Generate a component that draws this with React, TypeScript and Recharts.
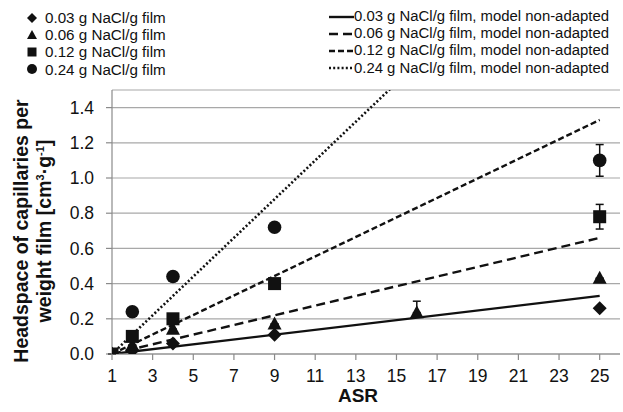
import React from 'react';
import {
  ComposedChart,
  Line,
  Scatter,
  ErrorBar,
  XAxis,
  YAxis,
  CartesianGrid,
} from 'recharts';

// measured points (ASR vs headspace per film weight)
const diamondAsr = [1, 2, 4, 9, 25];
const diamondVal = [0, 0.02, 0.06, 0.11, 0.26];
const triangleAsr = [1, 2, 4, 9, 16, 25];
const triangleVal = [0, 0.05, 0.14, 0.17, 0.235, 0.43];
const triangleErrUp = [0, 0, 0, 0, 0.065, 0];
const squareAsr = [1, 2, 4, 9, 25];
const squareVal = [0, 0.1, 0.2, 0.4, 0.78];
const squareErr = [0, 0, 0, 0, 0.07];
const circleAsr = [2, 4, 9, 25];
const circleVal = [0.24, 0.44, 0.72, 1.1];
const circleErr = [0, 0, 0.02, 0.09];

// model lines, non-adapted
const modelAsr = [1, 25];
const model003 = [0, 0.33];
const model006 = [0, 0.66];
const model012 = [0, 1.33];
const model024 = [0, 2.64];

const xTicks = [1, 3, 5, 7, 9, 11, 13, 15, 17, 19, 21, 23, 25];
const yTicks = [0, 0.2, 0.4, 0.6, 0.8, 1.0, 1.2, 1.4];

const legendPoints = [
  '0.03 g NaCl/g film',
  '0.06 g NaCl/g film',
  '0.12 g NaCl/g film',
  '0.24 g NaCl/g film',
];
const legendModels = [
  '0.03 g NaCl/g film, model non-adapted',
  '0.06 g NaCl/g film, model non-adapted',
  '0.12 g NaCl/g film, model non-adapted',
  '0.24 g NaCl/g film, model non-adapted',
];

const pts = (xs: number[], ys: number[], errs?: (number | number[])[]) =>
  xs.map((x, i) => ({ x, y: ys[i], err: errs ? errs[i] : 0 }));

const INK = '#111';
const FONT = '"Liberation Sans", Arial, sans-serif';

const dashes = [undefined, '9 5', '6 3', '2 2.2'];
const models = [model003, model006, model012, model024];

type MarkerKind = 'diamond' | 'triangle' | 'square' | 'circle';

function markerPath(kind: MarkerKind, cx: number, cy: number) {
  switch (kind) {
    case 'diamond':
      return <path d={`M${cx},${cy - 7}L${cx + 7},${cy}L${cx},${cy + 7}L${cx - 7},${cy}Z`} fill={INK} />;
    case 'triangle':
      return <path d={`M${cx},${cy - 7.5}L${cx + 7},${cy + 5.5}L${cx - 7},${cy + 5.5}Z`} fill={INK} />;
    case 'square':
      return <rect x={cx - 6.5} y={cy - 6.5} width={13} height={13} fill={INK} />;
    default:
      return <circle cx={cx} cy={cy} r={6.8} fill={INK} />;
  }
}

const shapeFor = (kind: MarkerKind) => (props: any) => markerPath(kind, props.cx, props.cy);

function LegendMarker({ kind }: { kind: MarkerKind }) {
  const s = {
    diamond: 'M5,0L10,5L5,10L0,5Z',
    triangle: 'M5,0L10,9L0,9Z',
    square: 'M0.5,0.5H9.5V9.5H0.5Z',
    circle: '',
  }[kind];
  return (
    <svg width={10} height={10} style={{ marginRight: 8, flex: 'none' }}>
      {kind === 'circle' ? <circle cx={5} cy={5} r={5} fill={INK} /> : <path d={s} fill={INK} />}
    </svg>
  );
}

export default function App() {
  const kinds: MarkerKind[] = ['diamond', 'triangle', 'square', 'circle'];
  return (
    <div style={{ position: 'relative', width: 623, height: 412, fontFamily: FONT, color: INK, background: '#fff' }}>
      <style>{'body{margin:0}'}</style>
      <ComposedChart width={623} height={412} margin={{ top: 90, right: 3, bottom: 0, left: 48 }}>
        <CartesianGrid vertical={false} stroke="#a8a8a8" strokeWidth={1.2} />
        <XAxis
          type="number"
          dataKey="x"
          domain={[1, 26]}
          ticks={xTicks}
          allowDataOverflow
          stroke="#8a8a8a"
          strokeWidth={1.2}
          tickSize={6}
          tickMargin={10}
          tick={{ fontSize: 17.5, fill: INK, fontFamily: FONT }}
          height={58}
        />
        <YAxis
          type="number"
          domain={[0, 1.5]}
          ticks={yTicks}
          allowDataOverflow
          stroke="#8a8a8a"
          strokeWidth={1.2}
          tickSize={6}
          tickMargin={12}
          tickFormatter={(v: number) => v.toFixed(1)}
          tick={{ fontSize: 17.5, fill: INK, fontFamily: FONT }}
          width={64}
        />
        {models.map((m, i) => (
          <Line
            key={`m${i}`}
            data={pts(modelAsr, m)}
            dataKey="y"
            type="linear"
            stroke={INK}
            strokeWidth={i === 3 ? 2.6 : 2.4}
            strokeDasharray={dashes[i]}
            dot={false}
            activeDot={false}
            isAnimationActive={false}
          />
        ))}
        <Scatter data={pts(diamondAsr, diamondVal)} dataKey="y" shape={shapeFor('diamond')} isAnimationActive={false} />
        <Scatter
          data={pts(triangleAsr, triangleVal, triangleErrUp.map((e) => [0, e]))}
          dataKey="y"
          shape={shapeFor('triangle')}
          isAnimationActive={false}
        >
          <ErrorBar dataKey="err" direction="y" width={4} stroke={INK} strokeWidth={1.5} />
        </Scatter>
        <Scatter data={pts(squareAsr, squareVal, squareErr)} dataKey="y" shape={shapeFor('square')} isAnimationActive={false}>
          <ErrorBar dataKey="err" direction="y" width={4} stroke={INK} strokeWidth={1.5} />
        </Scatter>
        <Scatter data={pts(circleAsr, circleVal, circleErr)} dataKey="y" shape={shapeFor('circle')} isAnimationActive={false}>
          <ErrorBar dataKey="err" direction="y" width={4} stroke={INK} strokeWidth={1.5} />
        </Scatter>
      </ComposedChart>

      {/* legend, markers */}
      <div style={{ position: 'absolute', left: 27, top: 9, fontSize: 15.2, lineHeight: '17.2px' }}>
        {legendPoints.map((t, i) => (
          <div key={t} style={{ display: 'flex', alignItems: 'center', whiteSpace: 'nowrap' }}>
            <LegendMarker kind={kinds[i]} />
            {t}
          </div>
        ))}
      </div>

      {/* legend, model lines */}
      <div style={{ position: 'absolute', left: 329, top: 8, fontSize: 14.9, lineHeight: '17.2px' }}>
        {legendModels.map((t, i) => (
          <div key={t} style={{ display: 'flex', alignItems: 'center', whiteSpace: 'nowrap' }}>
            <svg width={25} height={6} style={{ flex: 'none' }}>
              <line x1={0} y1={3} x2={25} y2={3} stroke={INK} strokeWidth={2.4} strokeDasharray={dashes[i]} />
            </svg>
            {t}
          </div>
        ))}
      </div>

      {/* y axis title */}
      <div
        style={{
          position: 'absolute',
          left: 34 - 160,
          top: 231 - 24,
          width: 320,
          height: 48,
          transform: 'rotate(-90deg)',
          textAlign: 'center',
          fontWeight: 'bold',
          fontSize: 19.5,
          lineHeight: '23px',
          whiteSpace: 'nowrap',
        }}
      >
        Headspace of capillaries per
        <br />
        weight film [cm<sup style={{ fontSize: 11, lineHeight: 0 }}>3</sup>·g<sup style={{ fontSize: 11, lineHeight: 0 }}>-1</sup>]
      </div>

      {/* x axis title */}
      <div style={{ position: 'absolute', left: 308, top: 385, width: 100, textAlign: 'center', fontWeight: 'bold', fontSize: 19 }}>
        ASR
      </div>
    </div>
  );
}
